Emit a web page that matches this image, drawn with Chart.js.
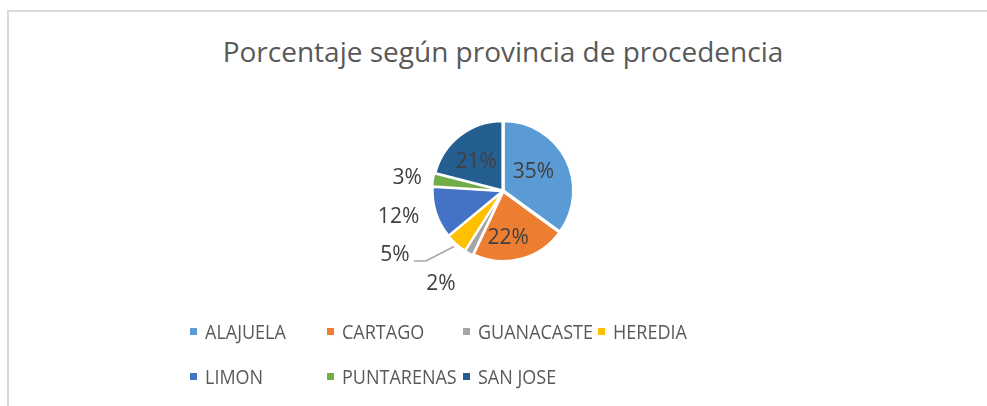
<!DOCTYPE html>
<html>
<head>
<meta charset="utf-8">
<script src="https://cdn.jsdelivr.net/npm/chart.js@4.4.1/dist/chart.umd.min.js"></script>
<style>
  html, body { margin: 0; padding: 0; background: #fff; }
  #wrap { position: relative; width: 987px; height: 406px; overflow: hidden; }
  #frame { position: absolute; left: 7px; top: 10px; width: 990px; height: 400px;
           border-top: 2px solid #d9d9d9; border-left: 2px solid #d9d9d9; box-sizing: border-box; }
  #title { position: absolute; left: 0; width: 1006px; top: 32px; text-align: center;
           font-family: "Open Sans", sans-serif; font-weight: 400; font-size: 28px; color: #595959;
           line-height: 38px; white-space: nowrap; }
  canvas { position: absolute; left: 0; top: 0; }
  .lg { position: absolute; font-family: "Open Sans", sans-serif;
        font-size: 20px; color: #595959; line-height: 24px; white-space: nowrap; }
  .lg i { position: absolute; left: 0; top: 8px; width: 7px; height: 7px; }
  .lg span { position: absolute; left: 15px; top: 0; transform: scaleX(0.9); transform-origin: 0 50%; }
</style>
</head>
<body>
<div id="wrap">
  <div id="frame"></div>
  <div id="title">Porcentaje según provincia de procedencia</div>
  <canvas id="c" width="987" height="406"></canvas>
</div>
<script>
const provincias = ["ALAJUELA", "CARTAGO", "GUANACASTE", "HEREDIA", "LIMON", "PUNTARENAS", "SAN JOSE"];
const porcentajes = [35, 22, 2, 5, 12, 3, 21];
const etiquetas = ["35%", "22%", "2%", "5%", "12%", "3%", "21%"];
const colores = ["#5B9BD5", "#ED7D31", "#A5A5A5", "#FFC000", "#4472C4", "#70AD47", "#255E91"];

// label placement relative to each arc: [radius factor, angle shift in degrees]
const labelPlace = [[0.52, -5], [0.68, 8], [1.62, 5], [1.82, 18], [1.56, 4], [1.40, -1.5], [0.57, -5]];
const leaderFor = 3;

// legend layout
const legCols = [190, 327, 463, 598];
const legRows = [320, 365];
const wrap = document.getElementById('wrap');
provincias.forEach((p, i) => {
  const d = document.createElement('div');
  d.className = 'lg';
  d.style.left = legCols[i % 4] + 'px';
  d.style.top = legRows[Math.floor(i / 4)] + 'px';
  d.innerHTML = '<i style="background:' + colores[i] + '"></i><span>' + p + '</span>';
  wrap.appendChild(d);
});

const labelPlugin = {
  id: 'pieLabels',
  afterDatasetsDraw(chart) {
    const ctx = chart.ctx;
    const meta = chart.getDatasetMeta(0);
    ctx.save();
    ctx.font = '21px "Open Sans", sans-serif';
    ctx.fillStyle = '#404040';
    ctx.textAlign = 'center';
    ctx.textBaseline = 'middle';
    meta.data.forEach((arc, i) => {
      const p = arc.getProps(['x', 'y', 'startAngle', 'endAngle', 'outerRadius'], true);
      const mid = (p.startAngle + p.endAngle) / 2;
      const a = mid + labelPlace[i][1] * Math.PI / 180;
      const r = p.outerRadius * labelPlace[i][0];
      const lx = p.x + Math.cos(a) * r;
      const ly = p.y + Math.sin(a) * r;
      ctx.fillText(etiquetas[i], lx, ly);
      if (i === leaderFor) {
        const er = p.outerRadius + 5;
        const ex = p.x + Math.cos(mid) * er;
        const ey = p.y + Math.sin(mid) * er;
        ctx.strokeStyle = '#A6A6A6';
        ctx.lineWidth = 1.5;
        ctx.beginPath();
        ctx.moveTo(ex, ey);
        ctx.lineTo(lx + 31, ly + 6);
        ctx.lineTo(lx + 19, ly + 6);
        ctx.stroke();
      }
    });
    ctx.restore();
  }
};

new Chart(document.getElementById('c'), {
  type: 'pie',
  data: {
    labels: provincias,
    datasets: [{
      data: porcentajes,
      backgroundColor: colores,
      borderColor: '#ffffff',
      borderWidth: 2,
      offset: 4
    }]
  },
  options: {
    responsive: false,
    animation: false,
    layout: { padding: { left: 431, right: 412, top: 119, bottom: 143 } },
    plugins: { legend: { display: false }, tooltip: { enabled: false }, title: { display: false } }
  },
  plugins: [labelPlugin]
});
</script>
</body>
</html>
